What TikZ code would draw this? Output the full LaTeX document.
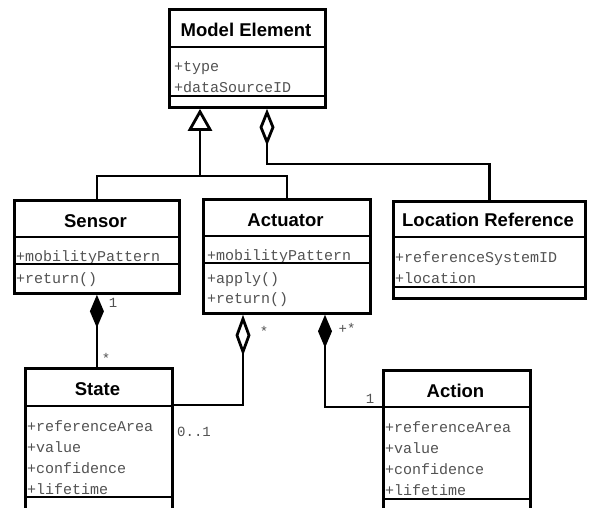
\documentclass[tikz,border=0pt]{standalone}
\usepackage{fontspec}
\setmainfont{Liberation Sans}
\newfontfamily\monofont{Liberation Mono}
\usetikzlibrary{arrows.meta}
\begin{document}
\begin{tikzpicture}[x=1pt,y=-1pt,
  box/.style={draw, line width=2.8pt, rectangle, inner sep=0pt, anchor=north west},
  sep/.style={line width=2.8pt},
  title/.style={font=\fontsize{18.5}{18.5}\selectfont\bfseries, anchor=base, inner sep=0pt},
  attr/.style={font=\monofont\fontsize{15}{15}\selectfont, text=black!68, anchor=base west, inner sep=0pt},
  mult/.style={font=\monofont\fontsize{14}{14}\selectfont, text=black!68, inner sep=0pt},
  conn/.style={line width=2.8pt},
]
\useasboundingbox (0,0) rectangle (592,507);
\clip (0,0) rectangle (592,507);

% Model Element
\node[box, minimum width=156pt, minimum height=98pt] (me) at (168,8) {};
\node[title] (meT) at (246,36) {Model Element};
\node[attr] (meA1) at (174,71) {+type};
\node[attr] (meA2) at (174,92) {+dataSourceID};
\draw[sep] (me.west |- 0,47) -- (me.east |- 0,47);
\draw[sep] (me.west |- 0,96) -- (me.east |- 0,96);

% Sensor
\node[box, minimum width=165pt, minimum height=93pt] (sensor) at (13,199) {};
\node[title] (sensorT) at (95.5,227) {Sensor};
\node[attr] (sensorA1) at (16,261) {+mobilityPattern};
\node[attr] (sensorA2) at (16,283) {+return()};
\draw[sep] (sensor.west |- 0,237) -- (sensor.east |- 0,237);
\draw[sep] (sensor.west |- 0,264) -- (sensor.east |- 0,264);

% Actuator
\node[box, minimum width=167pt, minimum height=114pt] (actuator) at (202,198) {};
\node[title] (actuatorT) at (285.5,226) {Actuator};
\node[attr] (actuatorA1) at (207,260) {+mobilityPattern};
\node[attr] (actuatorA2) at (207,283) {+apply()};
\node[attr] (actuatorA3) at (207,303) {+return()};
\draw[sep] (actuator.west |- 0,236) -- (actuator.east |- 0,236);
\draw[sep] (actuator.west |- 0,263) -- (actuator.east |- 0,263);

% Location Reference
\node[box, minimum width=192pt, minimum height=97pt] (loc) at (392,200) {};
\node[title] (locT) at (488,226) {Location Reference};
\node[attr] (locA1) at (395,262) {+referenceSystemID};
\node[attr] (locA2) at (395,283) {+location};
\draw[sep] (loc.west |- 0,237) -- (loc.east |- 0,237);
\draw[sep] (loc.west |- 0,287) -- (loc.east |- 0,287);

% State
\node[box, minimum width=147pt, minimum height=160pt] (state) at (24,367) {};
\node[title] (stateT) at (97.5,395) {State};
\node[attr] (stateA1) at (27,431) {+referenceArea};
\node[attr] (stateA2) at (27,452) {+value};
\node[attr] (stateA3) at (27,473) {+confidence};
\node[attr] (stateA4) at (27,494) {+lifetime};
\draw[sep] (state.west |- 0,406) -- (state.east |- 0,406);
\draw[sep] (state.west |- 0,497) -- (state.east |- 0,497);

% Action
\node[box, minimum width=147pt, minimum height=160pt] (action) at (382,369) {};
\node[title] (actionT) at (455.5,397) {Action};
\node[attr] (actionA1) at (385,432) {+referenceArea};
\node[attr] (actionA2) at (385,453) {+value};
\node[attr] (actionA3) at (385,474) {+confidence};
\node[attr] (actionA4) at (385,495) {+lifetime};
\draw[sep] (action.west |- 0,407) -- (action.east |- 0,407);
\draw[sep] (action.west |- 0,499) -- (action.east |- 0,499);

% Generalization
\coordinate (gj) at (200,176);
\draw[conn] (sensor.north) |- (gj) -| (actuator.north);
\draw[conn, -{Triangle[open, length=22pt, width=24pt]}] (gj) -- (gj |- me.south);

% Aggregation Model Element - Location Reference
\coordinate (aj) at (267,164);
\draw[conn, -{Diamond[open, length=37pt, width=15pt]}] (loc.north) |- (aj) -- (aj |- me.south);

% Composition Sensor - State
\draw[conn, -{Diamond[length=33pt, width=14pt]}] (sensor.south |- state.north) -- (sensor.south);

% Aggregation Actuator - State
\coordinate (sj) at (243,405);
\draw[conn, -{Diamond[open, length=41pt, width=15pt]}] (state.east |- sj) -- (sj) -- (sj |- actuator.south);

% Composition Actuator - Action
\coordinate (cj) at (325,407);
\draw[conn, -{Diamond[length=33pt, width=14pt]}] (action.west |- cj) -- (cj) -- (cj |- actuator.south);

% Multiplicities
\node[mult] (m1) at (113,303) {1};
\node[mult] (m2) at (106,358) {*};
\node[mult] (m3) at (264,331) {*};
\node[mult, anchor=base west] (m4) at (177,436) {0..1};
\node[mult] (m5) at (347,328) {+*};
\node[mult] (m6) at (370,399) {1};
\end{tikzpicture}
\end{document}
